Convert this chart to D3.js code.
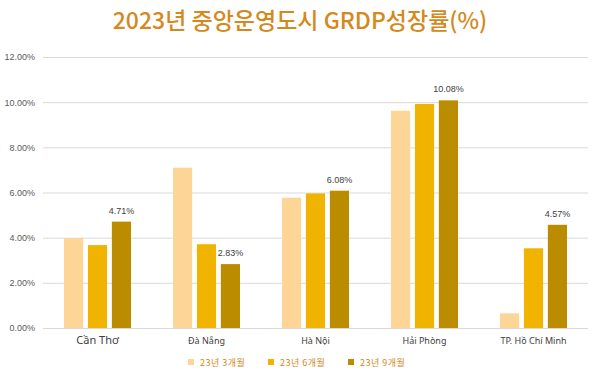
<!DOCTYPE html>
<html><head><meta charset="utf-8">
<script src="https://cdn.jsdelivr.net/npm/d3@7"></script>
<style>body{margin:0;background:#fff;}svg{display:block;}</style>
</head><body>
<svg id="c" width="600" height="376"></svg>
<script>
const categories = ["Cần Thơ","Đà Nẵng","Hà Nội","Hải Phòng","TP. Hồ Chí Minh"];
const seriesNames = ["23년 3개월","23년 6개월","23년 9개월"];
const s3m = [3.98, 7.10, 5.77, 9.62, 0.65];
const s6m = [3.67, 3.71, 5.96, 9.92, 3.53];
const s9m = [4.71, 2.83, 6.08, 10.08, 4.57];
const yTicks = [0,2,4,6,8,10,12];
const labelSeries = [false,false,true];
const colors = ["#FDD596","#F0B400","#BC8C00"];
const titleText = "2023년 중앙운영도시 GRDP성장률(%)";

const series = [s3m, s6m, s9m];
const svg = d3.select("#c");
const m = {l:43, r:12, t:57, b:48};
const W = 600, H = 376;
const x = d3.scaleBand().domain(categories).range([m.l, W - m.r]).paddingInner(0).paddingOuter(0);
const y = d3.scaleLinear().domain([0,12]).range([328, 57]);
const x1 = d3.scaleBand().domain(d3.range(3)).range([0, 67]).paddingInner(0.2);

svg.append("text").attr("x",300).attr("y",29).attr("text-anchor","middle")
  .attr("font-family","'Noto Sans CJK KR'").attr("font-size",23).attr("font-weight",500).attr("fill","#D4891C")
  .text(titleText);

const yAxis = d3.axisLeft(y).tickValues(yTicks).tickSize(-(W - m.r - m.l)).tickFormat(d => d.toFixed(2) + "%");
const ga = svg.append("g").attr("transform",`translate(${m.l},0)`).call(yAxis);
ga.select(".domain").remove();
ga.selectAll(".tick line").attr("stroke","#D9D9D9").attr("stroke-width",1);
ga.selectAll(".tick text").attr("x",-8).attr("fill","#595959").attr("font-size",9)
  .attr("font-family","'Liberation Sans', Arial, sans-serif");

const groups = svg.append("g").selectAll("g").data(categories).join("g")
  .attr("transform", d => `translate(${x(d) + (x.bandwidth() - 67)/2},0)`);
groups.each(function(cat, ci){
  const g = d3.select(this);
  series.forEach((s, si) => {
    g.append("rect").attr("x", x1(si)).attr("width", x1.bandwidth())
      .attr("y", y(s[ci])).attr("height", y(0) - y(s[ci])).attr("fill", colors[si]);
    if (labelSeries[si]) {
      g.append("text").attr("x", x1(si) + x1.bandwidth()/2).attr("y", y(s[ci]) - 8)
        .attr("text-anchor","middle").attr("font-size",9).attr("fill","#404040")
        .attr("font-family","'Liberation Sans', Arial, sans-serif")
        .text(s[ci].toFixed(2) + "%");
    }
  });
});

const xAxis = d3.axisBottom(x).tickSize(0);
const gx = svg.append("g").attr("transform",`translate(0,${y(0)})`).call(xAxis);
gx.select(".domain").remove();
gx.selectAll(".tick text").attr("dy",13).attr("fill","#404040")
  .attr("font-family","'Noto Sans', Arial, sans-serif")
  .attr("font-size", (d,i) => i === 0 ? 11 : 9);

const legX = [188, 268, 348];
const leg = svg.append("g");
seriesNames.forEach((n, i) => {
  leg.append("rect").attr("x", legX[i]).attr("y", 359).attr("width", 6).attr("height", 6).attr("fill", colors[i]);
  leg.append("text").attr("x", legX[i] + 12).attr("y", 365.5).attr("font-size", 9).attr("fill", "#D4891C")
    .attr("letter-spacing", 0.5)
    .attr("font-family","'Noto Sans CJK KR'").text(n);
});
</script>
</body></html>
